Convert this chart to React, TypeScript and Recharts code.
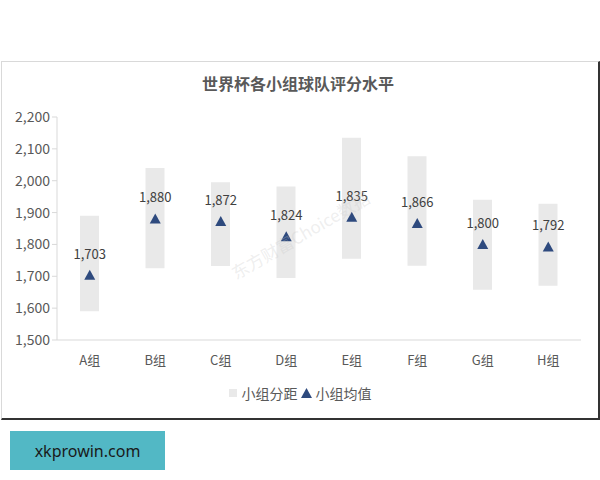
import React from 'react';
import { ComposedChart, Bar, Scatter, XAxis, YAxis } from 'recharts';

const categories = ['A组', 'B组', 'C组', 'D组', 'E组', 'F组', 'G组', 'H组'];
const rangeLow = [1590, 1725, 1732, 1695, 1755, 1733, 1658, 1670];
const rangeHigh = [1890, 2040, 1995, 1982, 2135, 2077, 1940, 1928];
const means = [1703, 1880, 1872, 1824, 1885, 1866, 1800, 1792];
const meanLabels = ['1,703', '1,880', '1,872', '1,824', '1,835', '1,866', '1,800', '1,792'];
const yTicks = [1500, 1600, 1700, 1800, 1900, 2000, 2100, 2200];

const FONT = '"Noto Sans CJK SC", "Noto Sans", sans-serif';
const BAR_COLOR = '#e9e9e9';
const TRI_COLOR = '#2e4a7e';

const data = categories.map((name, i) => ({
  name,
  range: [rangeLow[i], rangeHigh[i]],
  mean: means[i],
  label: meanLabels[i],
}));

const TriangleShape = (props: any) => {
  const { cx, cy, payload } = props;
  if (cx == null || cy == null) return null;
  const h = 5.5;
  return (
    <g>
      <polygon
        points={`${cx},${cy - h} ${cx - h},${cy + 4.5} ${cx + h},${cy + 4.5}`}
        fill={TRI_COLOR}
      />
      <text
        x={cx}
        y={cy - 22}
        textAnchor="middle"
        dominantBaseline="central"
        fontSize={13}
        fill="#404040"
        fontFamily={FONT}
      >
        {payload.label}
      </text>
    </g>
  );
};

export default function App() {
  return (
    <div style={{ position: 'absolute', left: 0, top: 0, width: 600, height: 480, background: '#fff', fontFamily: FONT }}>
      <div
        style={{
          position: 'absolute',
          left: 1,
          top: 61,
          width: 596,
          height: 356,
          borderTop: '1px solid #d9d9d9',
          borderLeft: '1px solid #d9d9d9',
          borderRight: '2px solid #333',
          borderBottom: '2px solid #333',
        }}
      />
      <div
        style={{
          position: 'absolute',
          left: 0,
          top: 72,
          width: 596,
          textAlign: 'center',
          fontSize: 16,
          fontWeight: 'bold',
          color: '#595959',
          lineHeight: '22px',
        }}
      >
        世界杯各小组球队评分水平
      </div>
      <div style={{ position: 'absolute', left: 0, top: 0 }}>
        <ComposedChart
          width={600}
          height={420}
          data={data}
          margin={{ top: 117, right: 19, left: 7, bottom: 50 }}
        >
          <XAxis
            dataKey="name"
            height={30}
            tickLine={false}
            axisLine={{ stroke: '#d9d9d9' }}
            tick={{ fontSize: 13, fill: '#595959', fontFamily: FONT }}
            tickMargin={10}
          />
          <YAxis
            type="number"
            width={50}
            domain={[1500, 2200]}
            ticks={yTicks}
            interval={0}
            tickSize={5}
            tickLine={{ stroke: '#d9d9d9' }}
            axisLine={{ stroke: '#d9d9d9' }}
            tick={{ fontSize: 14, fill: '#595959', fontFamily: FONT }}
            tickFormatter={(v: number) => v.toLocaleString('en-US')}
          />
          <Bar dataKey="range" barSize={19} fill={BAR_COLOR} isAnimationActive={false} />
          <Scatter dataKey="mean" shape={TriangleShape} isAnimationActive={false} />
        </ComposedChart>
      </div>
      <div
        style={{
          position: 'absolute',
          left: 140,
          top: 222,
          width: 320,
          textAlign: 'center',
          transform: 'rotate(-30deg)',
          fontSize: 17,
          color: 'rgba(200,200,200,0.3)',
          pointerEvents: 'none',
        }}
      >
        东方财富Choice数据
      </div>
      <div
        style={{
          position: 'absolute',
          left: 0,
          top: 383,
          width: 600,
          display: 'flex',
          justifyContent: 'center',
          alignItems: 'center',
          fontSize: 14,
          color: '#595959',
          lineHeight: '20px',
        }}
      >
        <svg width={8} height={8} style={{ marginRight: 5, marginLeft: 0 }}>
          <rect x={0} y={0} width={8} height={8} fill={BAR_COLOR} />
        </svg>
        <span>小组分距</span>
        <svg width={11} height={10} style={{ marginLeft: 3, marginRight: 4 }}>
          <polygon points="5.5,0 0,10 11,10" fill={TRI_COLOR} />
        </svg>
        <span>小组均值</span>
      </div>
      <div
        style={{
          position: 'absolute',
          left: 10,
          top: 431,
          width: 155,
          height: 39,
          background: '#52b8c5',
          display: 'flex',
          alignItems: 'center',
          justifyContent: 'center',
          fontSize: 16,
          color: '#1a1a1a',
          fontFamily: '"Noto Sans", sans-serif',
        }}
      >
        xkprowin.com
      </div>
    </div>
  );
}
